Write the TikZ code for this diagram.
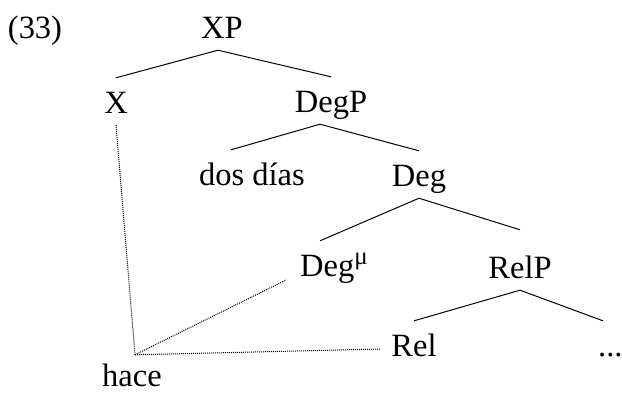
\documentclass[tikz,border=0pt]{standalone}
\usepackage{fontspec}
\setmainfont{Liberation Serif}
\usepackage{tikz}
\tikzstyle{cat} = [inner sep=0pt, text height=35pt, text depth=12pt, anchor=base]
\tikzstyle{branch} = [line width=1pt]
\tikzstyle{link} = [line width=1pt, dash pattern=on 1pt off 1pt]

\begin{document}
\begin{tikzpicture}[x=1pt, y=-1pt, every node/.style={font=\fontsize{32.5}{38}\selectfont}]
  \useasboundingbox (0,0) rectangle (622,392);
  \node (ex) at (35,38) [cat] {(33)};
  \node (a) at (222,38) [cat] {XP};
  \node (b) at (116,113) [cat] {X};
  \node (c) at (331,112) [cat] {DegP};
  \node (d) at (252,185) [cat] {dos días};
  \node (e) at (419,186) [cat] {Deg};
  \node (f) at (300,276) [cat, anchor=base west] {Deg\raisebox{12pt}{\fontsize{25}{25}\selectfont μ}};
  \node (g) at (520,278) [cat] {RelP};
  \node (h) at (414,356) [cat] {Rel};
  \node (i) at (598,356) [cat, anchor=base west] {...};
  \node (j) at (132,386) [cat] {hace};
  % tree
  \draw [branch] ([xshift=-4pt]a.south) to (b.north);
  \draw [branch] ([xshift=-4pt]a.south) to (c.north);
  \draw [branch] ([xshift=-11pt]c.south) to ([xshift=-21pt]d.north);
  \draw [branch] ([xshift=-11pt]c.south) to (e.north);
  \draw [branch] (e.south) to ([xshift=20pt]f.north west);
  \draw [branch] (e.south) to ([yshift=13pt]g.north);
  \draw [branch] (g.south) to (h.north);
  \draw [branch] (g.south) to ([xshift=5pt]i.north west);
  % hace
  \draw [link] (b.south) to ([xshift=3pt,yshift=-4pt]j.north);
  \draw [link] ([xshift=3pt,yshift=-4pt]j.north) to ([xshift=-14pt,yshift=-4pt]f.base west);
  \draw [link] ([xshift=3pt,yshift=-4pt]j.north) to ([xshift=-10pt,yshift=7pt]h.base west);
\end{tikzpicture}
\end{document}
